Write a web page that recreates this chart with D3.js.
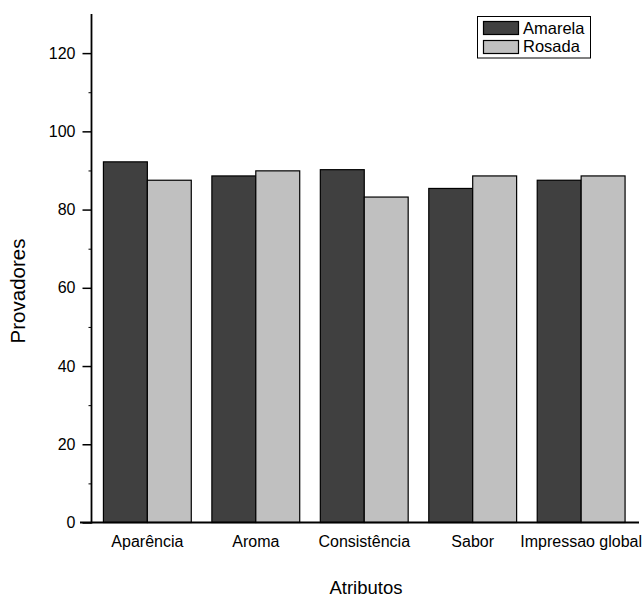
<!DOCTYPE html>
<html><head><meta charset="utf-8">
<script src="https://cdn.jsdelivr.net/npm/d3@7"></script>
<style>body{margin:0;background:#fff}svg{display:block}text{font-family:"Liberation Sans",Arial,sans-serif}</style>
</head><body><svg id="c" width="644" height="598"></svg>
<script>
const categories = ["Aparência","Aroma","Consistência","Sabor","Impressao global"];
const series = ["Amarela","Rosada"];
const amarela = [92.2, 88.6, 90.2, 85.4, 87.5];
const rosada = [87.5, 89.9, 83.2, 88.6, 88.6];
const yTicks = [0,20,40,60,80,100,120];
const colors = {"Amarela":"#404040","Rosada":"#c0c0c0"};

const svg = d3.select("#c");
const x0 = 91.5, x1 = 637, yTop = 14, yBot = 522.5;
const x = d3.scaleBand().domain(categories).range([x0, x1]).paddingInner(0.19).paddingOuter(0.11);
const xs = d3.scaleBand().domain(series).range([0, x.bandwidth()]);
const y = d3.scaleLinear().domain([0,130]).range([yBot, yTop]);

const data = categories.map((c,i)=>({c, vals:[{s:"Amarela",v:amarela[i]},{s:"Rosada",v:rosada[i]}]}));
const g = svg.append("g");
g.selectAll("g.grp").data(data).join("g").attr("transform",d=>`translate(${x(d.c)},0)`)
 .selectAll("rect").data(d=>d.vals).join("rect")
 .attr("x",d=>xs(d.s)).attr("width",xs.bandwidth())
 .attr("y",d=>y(d.v)).attr("height",d=>yBot-y(d.v))
 .attr("fill",d=>colors[d.s]).attr("stroke","#000").attr("stroke-width",1.2);

// y axis
const ya = svg.append("g").attr("transform",`translate(${x0},0)`)
 .call(d3.axisLeft(y).tickValues(yTicks).tickSize(9).tickPadding(7).tickFormat(d3.format("d")));
ya.select(".domain").remove();
ya.selectAll("text").attr("font-size",16).attr("fill","#000");
ya.selectAll("line").attr("stroke","#000").attr("stroke-width",1.5);
svg.append("g").attr("transform",`translate(${x0},0)`)
 .call(d3.axisLeft(y).tickValues(d3.range(10,130,20)).tickSize(3).tickFormat(""))
 .call(s=>{s.select(".domain").remove(); s.selectAll("line").attr("stroke","#000");});
svg.append("line").attr("x1",x0).attr("x2",x0).attr("y1",yTop).attr("y2",yBot+1).attr("stroke","#000").attr("stroke-width",1.8);
// x axis
const xa = svg.append("g").attr("transform",`translate(0,${yBot})`)
 .call(d3.axisBottom(x).tickSize(0).tickPadding(13));
xa.select(".domain").remove();
xa.selectAll("text").attr("font-size",16).attr("fill","#000");
svg.append("line").attr("x1",80).attr("x2",639).attr("y1",yBot).attr("y2",yBot).attr("stroke","#000").attr("stroke-width",1.8);

svg.append("text").attr("x",366).attr("y",594).attr("text-anchor","middle").attr("font-size",18.5).text("Atributos");
svg.append("text").attr("transform","translate(25,291) rotate(-90)").attr("text-anchor","middle").attr("font-size",20.5).text("Provadores");

// legend
const lg = svg.append("g");
lg.append("rect").attr("x",477.5).attr("y",16.5).attr("width",113).attr("height",41.5).attr("fill","#fff").attr("stroke","#000");
series.forEach((s,i)=>{
  lg.append("rect").attr("x",483.5).attr("y",21.5+i*19).attr("width",35).attr("height",13).attr("fill",colors[s]).attr("stroke","#000").attr("stroke-width",1.2);
  lg.append("text").attr("x",523).attr("y",33.5+i*18.5).attr("font-size",16.5).text(s);
});
</script></body></html>
